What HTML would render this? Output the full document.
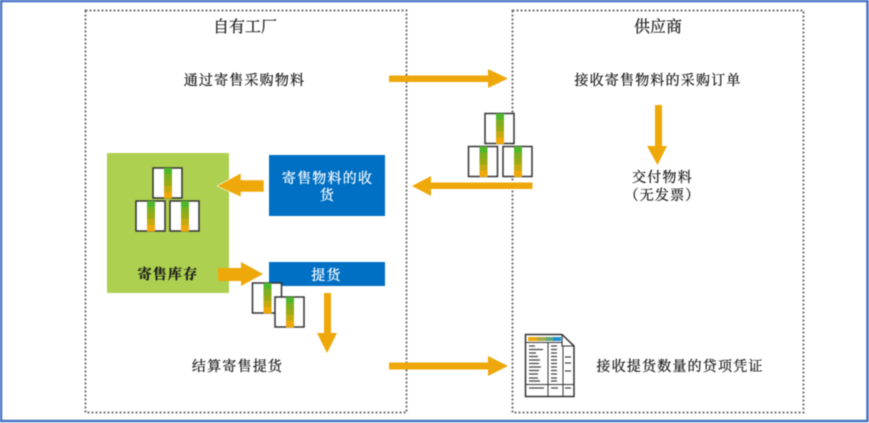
<!DOCTYPE html>
<html>
<head>
<meta charset="utf-8">
<style>
html,body{margin:0;padding:0;background:#fff}
svg{display:block;filter:blur(.4px)}
text{font-family:"Liberation Serif","Noto Serif CJK SC",serif;fill:#1a1a1a;text-anchor:middle;font-size:14px;letter-spacing:1.2px;stroke:#1a1a1a;stroke-width:.25px}
text.w{fill:#fff;stroke:#fff}
text.t{font-size:16px;letter-spacing:0}
</style>
</head>
<body>
<svg width="869" height="423" viewBox="0 0 869 423" xmlns="http://www.w3.org/2000/svg">
<defs>
<g id="c">
<rect x="0" y="0" width="29" height="30" fill="#fff" stroke="#333" stroke-width="1.500"/>
<rect x="11" y="0" width="8" height="6" fill="#4fb82a"/>
<rect x="11" y="6" width="8" height="6" fill="#7fae1e"/>
<rect x="11" y="12" width="8" height="6" fill="#99aa15"/>
<rect x="11" y="18" width="8" height="6" fill="#c4aa10"/>
<rect x="11" y="24" width="8" height="6.500" fill="#eea80a"/>
</g>
</defs>
<rect x="0" y="0" width="869" height="423" fill="#fff"/>
<rect x="1" y="1" width="866.500" height="420" fill="none" stroke="#4472c4" stroke-width="2.500"/>
<rect x="85.500" y="10.500" width="321" height="402" fill="none" stroke="#777" stroke-width="2" stroke-dasharray="2 2"/>
<rect x="512.500" y="10.500" width="291" height="402" fill="none" stroke="#777" stroke-width="2" stroke-dasharray="2 2"/>

<rect x="107" y="153" width="122" height="140" fill="#add050"/>
<rect x="269" y="155" width="116" height="61" fill="#0070c4"/>
<rect x="269" y="262" width="116" height="24" fill="#0070c4"/>

<g fill="#eea80a">
<polygon points="389,75.500 488,75.500 488,69 508,78.500 488,88 488,82 389,82"/>
<polygon points="389,362.500 488,362.500 488,356 508,366 488,376 488,369.500 389,369.500"/>
<polygon points="532.500,182.500 431,182.500 431,176 412,186 431,196 431,189 532.500,189"/>
<polygon points="655,105 662,105 662,146 667,146 657.500,165 647,146 655,146"/>
<polygon points="264,180 241,180 241,173 217,186 241,197 241,192 264,192" stroke="#fff" stroke-width=".6"/>
<polygon points="218,268 241,268 241,262 263,274 241,286 241,281 218,281"/>
<polygon points="324,293 331,293 331,333 337,333 327,353 317,333 324,333"/>
</g>

<use href="#c" x="153" y="168"/>
<use href="#c" x="136" y="201"/>
<use href="#c" x="170" y="201"/>
<use href="#c" x="485" y="113.500"/>
<use href="#c" x="468.500" y="146.500"/>
<use href="#c" x="503" y="146.500"/>
<use href="#c" x="252.500" y="283"/>
<use href="#c" x="275" y="297"/>

<g>
<path d="M525.500 334.500H562L574 346V396.500H525.500Z" fill="#fff" stroke="#333" stroke-width="1.500"/>
<path d="M562 334.500V346H574" fill="none" stroke="#333" stroke-width="1.100"/>
<rect x="528" y="337" width="9" height="4" fill="#eea80a"/>
<rect x="537" y="337" width="9" height="4" fill="#a5ab4a"/>
<rect x="546" y="337" width="7" height="4" fill="#5fa57a"/>
<rect x="553" y="337" width="8" height="4" fill="#1f8fd0"/>
<path d="M526 342.500H562M548 342V396M563 346V396M526 384.500H574" stroke="#333" stroke-width="1" fill="none"/>
<path d="M529 346h6M529 349.500h14M529 353h7M529 356.500h9M529 360h11M529 363.500h10M529 367h12M529 370.500h10M529 374h9M529 378h9M529 381h11M529 388h15M551 346h6M551 349.500h6M551 353h6M551 356.500h6M551 360h6M551 363.500h6M551 367h6M551 370.500h6M551 374h6M551 378h6M551 381h6M551 388h7M565 357h6M565 363h6M565 371h6M565 388h6" stroke="#444" stroke-width="1.200" fill="none"/>
</g>

<text class="t" x="245" y="32">自有工厂</text>
<text class="t" x="658" y="32">供应商</text>
<text x="244.500" y="85">通过寄售采购物料</text>
<text x="658" y="85">接收寄售物料的采购订单</text>
<text class="w" x="327.500" y="183">寄售物料的收</text>
<text class="w" x="327.500" y="200">货</text>
<text class="w" x="326.500" y="280">提货</text>
<text x="168" y="279" font-weight="700">寄售库存</text>
<text x="662.500" y="182">交付物料</text>
<text x="662.500" y="200">（无发票）</text>
<text x="237.500" y="371">结算寄售提货</text>
<text x="680" y="371">接收提货数量的贷项凭证</text>
</svg>
</body>
</html>
